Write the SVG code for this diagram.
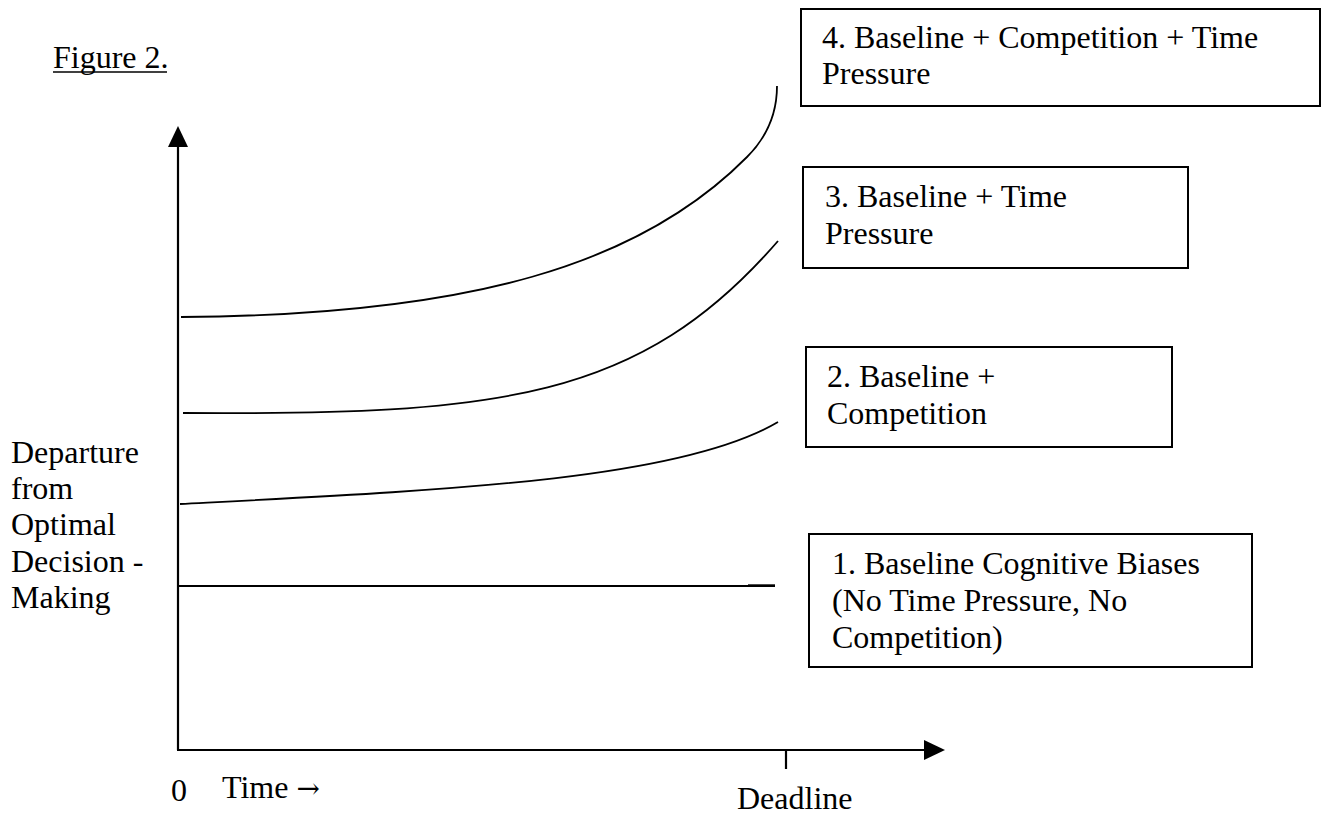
<svg xmlns="http://www.w3.org/2000/svg" width="1322" height="814" viewBox="0 0 1322 814">
<style>
text{font-family:"Liberation Serif","Times New Roman",serif;font-size:32px;fill:#000}
.box{fill:#fff;stroke:#000;stroke-width:2}
.axis{stroke:#000;stroke-width:2.2;fill:none}
.curve{stroke:#000;stroke-width:1.8;fill:none}
</style>
<rect width="1322" height="814" fill="#fff"/>
<g id="title">
<text x="53" y="68">Figure 2.</text>
<line x1="53" y1="72" x2="167" y2="72" stroke="#000" stroke-width="1.6"/>
</g>
<g id="ylabel">
<text x="11" y="463">Departure</text>
<text x="11" y="499">from</text>
<text x="11" y="535">Optimal</text>
<text x="11" y="572">Decision -</text>
<text x="11" y="608">Making</text>
</g>
<g id="axes">
<line class="axis" x1="178" y1="144" x2="178" y2="750"/>
<polygon points="178,126 168,147 188,147" fill="#000"/>
<line class="axis" x1="177" y1="750" x2="926" y2="750"/>
<polygon points="945,750 924,740 924,760" fill="#000"/>
<line class="axis" x1="786" y1="750" x2="786" y2="769" stroke-width="1.6"/>
<text x="171" y="801">0</text>
<text x="222" y="798">Time <tspan font-family="DejaVu Serif, serif" font-size="28">→</tspan></text>
<text x="737" y="809">Deadline</text>
</g>
<g id="connectors">
<line class="curve" x1="179" y1="586" x2="775" y2="586"/>
<line x1="748" y1="585.5" x2="775" y2="585.5" stroke="#000" stroke-width="2.4"/>
<path class="curve" d="M180 504 C 450 490, 680 480, 778 422"/>
<path class="curve" d="M183 413 C 500 415, 640 400, 778 241"/>
<path class="curve" d="M181 317 C 470 315, 640 265, 747 157 C 760 144, 777 122, 777 86"/>
</g>
<g id="box4">
<rect class="box" x="801" y="9" width="519" height="97"/>
<text x="822" y="48">4. Baseline + Competition + Time</text>
<text x="822" y="84">Pressure</text>
</g>
<g id="box3">
<rect class="box" x="803" y="167" width="385" height="101"/>
<text x="825" y="207">3. Baseline + Time</text>
<text x="825" y="244">Pressure</text>
</g>
<g id="box2">
<rect class="box" x="806" y="347" width="366" height="100"/>
<text x="827" y="387">2. Baseline +</text>
<text x="827" y="424">Competition</text>
</g>
<g id="box1">
<rect class="box" x="809" y="534" width="443" height="133"/>
<text x="832" y="574">1. Baseline Cognitive Biases</text>
<text x="832" y="611">(No Time Pressure, No</text>
<text x="832" y="648">Competition)</text>
</g>
</svg>
